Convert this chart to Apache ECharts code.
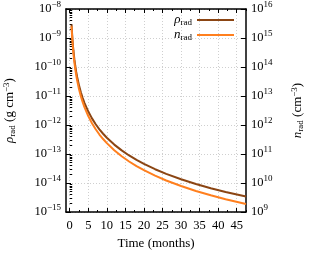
<!DOCTYPE html>
<html>
<head>
<meta charset="utf-8">
<script src="https://cdn.jsdelivr.net/npm/echarts@6/dist/echarts.min.js"></script>
<style>html,body{margin:0;padding:0;background:#fff}#c{width:309px;height:254px}</style>
</head>
<body>
<div id="c"></div>
<script>
// Data
const tMonths = [0.5, 0.6, 0.75, 0.9, 1, 1.25, 1.5, 1.75, 2, 2.5, 3, 3.5, 4, 5, 6, 7, 8, 9, 10, 12, 14, 16, 18, 20, 23, 26, 30, 34, 38, 42, 47.5];
const rhoRad = [2.91e-9, 1.69e-9, 8.63e-10, 4.99e-10, 3.64e-10, 1.86e-10, 1.08e-10, 6.79e-11, 4.55e-11, 2.33e-11, 1.35e-11, 8.49e-12, 5.69e-12, 2.91e-12, 1.69e-12, 1.06e-12, 7.11e-13, 4.99e-13, 3.64e-13, 2.11e-13, 1.33e-13, 8.89e-14, 6.24e-14, 4.55e-14, 2.99e-14, 2.07e-14, 1.35e-14, 9.26e-15, 6.63e-15, 4.91e-15, 3.40e-15];
const nRad = [2.55e15, 1.45e15, 7.26e14, 4.13e14, 2.98e14, 1.49e14, 8.5e13, 5.26e13, 3.5e13, 1.74e13, 9.9e12, 6.12e12, 4.06e12, 2.03e12, 1.15e12, 7.14e11, 4.7e11, 3.28e11, 2.37e11, 1.35e11, 8.34e10, 5.51e10, 3.83e10, 2.76e10, 1.79e10, 1.22e10, 7.9e9, 5.32e9, 3.77e9, 2.77e9, 1.9e9];
const xTickLabels = [0, 5, 10, 15, 20, 25, 30, 35, 40, 45];
const xMinorTicks = [2.5, 7.5, 12.5, 17.5, 22.5, 27.5, 32.5, 37.5, 42.5, 47.5];

const leftMinor = [];
for (let e = -15; e < -8; e++) for (let k = 2; k <= 9; k++) leftMinor.push(k * Math.pow(10, e));

const FONT = 'Liberation Serif';
const supRich = {
  b: {fontFamily: FONT, fontSize: 12.5, color: '#000'},
  s: {fontFamily: FONT, fontSize: 9, color: '#000', padding: [0, 0, 8, 0]}
};
function expLabel(v) {
  const e = Math.round(Math.log10(v));
  return '{b|10}{s|' + String(e).replace('-', '\u2212') + '}';
}
const nameRich = {
  i: {fontFamily: FONT, fontSize: 13, fontStyle: 'italic', color: '#000'},
  sub: {fontFamily: FONT, fontSize: 9, color: '#000', padding: [6, 0, 0, 0]},
  t: {fontFamily: FONT, fontSize: 13, color: '#000'},
  sup: {fontFamily: FONT, fontSize: 9, color: '#000', padding: [0, 0, 7, 0]}
};
const legRich = {
  i: {fontFamily: FONT, fontSize: 13, fontStyle: 'italic', color: '#000', lineHeight: 13},
  sub: {fontFamily: FONT, fontSize: 9, color: '#000', lineHeight: 13, padding: [5, 0, 0, 0]}
};
const XMIN = -1, XMAX = 47.5;

const chart = echarts.init(document.getElementById('c'), null, {renderer: 'canvas'});
const tickStyle = {color: '#000', width: 1};
chart.setOption({
  animation: false,
  backgroundColor: '#fff',
  grid: {left: 66, right: 63, top: 9, bottom: 42, containLabel: false, outerBoundsMode: 'none'},
  legend: {
    orient: 'vertical', right: 75, top: 13, align: 'right', padding: 0,
    icon: 'rect', itemWidth: 37, itemHeight: 2, itemGap: 1,
    textStyle: {fontFamily: FONT, fontSize: 13, color: '#000', rich: legRich},
    formatter: function (n) { return n === 'rho' ? '{i|\u03c1}{sub|rad}' : '{i|n}{sub|rad}'; },
    data: ['rho', 'n']
  },
  xAxis: [
    {
      type: 'value', position: 'bottom', min: XMIN, max: XMAX,
      name: 'Time (months)', nameLocation: 'middle', nameGap: 25,
      nameTextStyle: {fontFamily: FONT, fontSize: 13, color: '#000'},
      axisLine: {show: true, onZero: false, lineStyle: {color: '#000', width: 1.5}},
      axisTick: {show: true, inside: true, length: 4, lineStyle: tickStyle, customValues: xTickLabels},
      axisLabel: {show: true, fontFamily: FONT, fontSize: 12.5, color: '#000', margin: 7, customValues: xTickLabels},
      splitLine: {show: true, lineStyle: {color: '#cfcfcf', type: [1, 2], width: 1}}
    },
    {
      type: 'value', position: 'bottom', min: XMIN, max: XMAX, gridIndex: 0,
      axisLine: {show: false}, axisLabel: {show: false}, splitLine: {show: false},
      axisTick: {show: true, inside: true, length: 2, lineStyle: tickStyle, customValues: xMinorTicks}
    },
    {
      type: 'value', position: 'top', min: XMIN, max: XMAX, gridIndex: 0,
      axisLine: {show: true, onZero: false, lineStyle: {color: '#000', width: 1.5}},
      axisLabel: {show: false}, splitLine: {show: false},
      axisTick: {show: true, inside: true, length: 4, lineStyle: tickStyle, customValues: xTickLabels}
    },
    {
      type: 'value', position: 'top', min: XMIN, max: XMAX, gridIndex: 0,
      axisLine: {show: false}, axisLabel: {show: false}, splitLine: {show: false},
      axisTick: {show: true, inside: true, length: 2, lineStyle: tickStyle, customValues: xMinorTicks}
    }
  ],
  yAxis: [
    {
      type: 'log', logBase: 10, min: 1e-15, max: 1e-8, position: 'left',
      name: '{i|\u03c1}{sub|rad}{t| (g cm}{sup|\u22123}{t|)}', nameLocation: 'middle', nameGap: 48, nameRotate: 90,
      nameTextStyle: {rich: nameRich},
      axisLine: {show: true, onZero: false, lineStyle: {color: '#000', width: 1.5}},
      axisTick: {show: true, inside: true, length: 5, lineStyle: tickStyle},
      axisLabel: {fontFamily: FONT, fontSize: 12.5, color: '#000', margin: 5, formatter: expLabel, rich: supRich},
      splitLine: {show: true, lineStyle: {color: '#cfcfcf', type: [1, 2], width: 1}}
    },
    {
      type: 'log', logBase: 10, min: 1e9, max: 1e16, position: 'right',
      name: '{i|n}{sub|rad}{t| (cm}{sup|\u22123}{t|)}', nameLocation: 'middle', nameGap: 44, nameRotate: 90,
      nameTextStyle: {rich: nameRich},
      axisLine: {show: true, onZero: false, lineStyle: {color: '#000', width: 1.5}},
      axisTick: {show: true, inside: true, length: 5, lineStyle: tickStyle},
      axisLabel: {fontFamily: FONT, fontSize: 12.5, color: '#000', margin: 5, formatter: expLabel, rich: supRich},
      splitLine: {show: false}
    },
    {
      type: 'log', logBase: 10, min: 1e-15, max: 1e-8, position: 'left',
      axisLine: {show: false}, axisLabel: {show: false}, splitLine: {show: false},
      axisTick: {show: true, inside: true, length: 2.5, lineStyle: tickStyle, customValues: leftMinor}
    }
  ],
  series: [
    {
      name: 'rho', type: 'line', xAxisIndex: 0, yAxisIndex: 0, symbol: 'none', smooth: false,
      lineStyle: {color: '#8B4513', width: 2}, itemStyle: {color: '#8B4513'},
      data: tMonths.map((t, i) => [t, rhoRad[i]]), z: 3
    },
    {
      name: 'n', type: 'line', xAxisIndex: 0, yAxisIndex: 1, symbol: 'none', smooth: false,
      lineStyle: {color: '#FF7F1E', width: 2}, itemStyle: {color: '#FF7F1E'},
      data: tMonths.map((t, i) => [t, nRad[i]]), z: 4
    }
  ]
});
</script>
</body>
</html>
